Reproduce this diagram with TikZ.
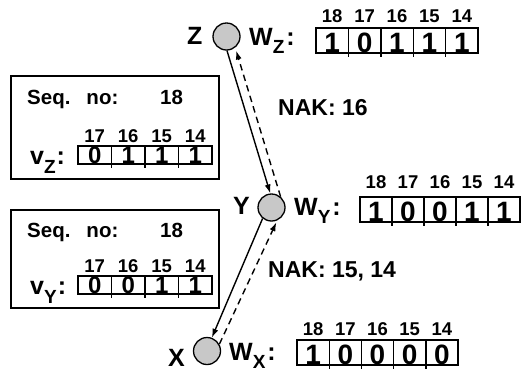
\documentclass[tikz,border=0pt]{standalone}
\usepackage{fontspec}
\setmainfont{Liberation Sans}
\usetikzlibrary{arrows.meta}
\definecolor{nodegray}{RGB}{200,200,200}
\newcommand{\subf}{\fontsize{19}{19}\selectfont}
\newcommand{\regbox}[9]{%
  \foreach \d [count=\i] in {#8} {
    \draw[cell] ({#2+(\i-1)*#4},#3) rectangle ({#2+\i*#4},{#3+#5});
    \node[#7] (#1d\i) at ({#2+(\i-0.5)*#4},{#3+#5}) {\d};
    \ifnum\i>1 \draw[cell] ({#2+(\i-1)*#4},{#3+#5}) -- ++(0,4);\fi
  }
  \foreach \l [count=\i] in {#9} {
    \node[collab] (#1l\i) at ({#2+(\i-0.5)*#4},#6) {\l};
  }
}
\begin{document}
\begin{tikzpicture}[x=1pt,y=-1pt,
  station/.style={circle, draw, fill=nodegray, minimum size=27pt, inner sep=0pt, line width=1.3pt},
  big/.style={font=\fontsize{25}{27}\selectfont\bfseries, inner sep=0pt},
  nak/.style={font=\fontsize{23}{25}\selectfont\bfseries, inner sep=0pt, anchor=base west},
  seq/.style={font=\fontsize{20.5}{22}\selectfont\bfseries, inner sep=0pt, anchor=base west},
  collab/.style={font=\fontsize{18.5}{20}\selectfont\bfseries, inner sep=0pt},
  digW/.style={font=\fontsize{28}{30}\selectfont\bfseries, inner sep=0pt, anchor=base, yshift=0.5pt},
  digV/.style={font=\fontsize{24}{26}\selectfont\bfseries, inner sep=0pt, anchor=base, yshift=0.5pt},
  cell/.style={line width=1.4pt},
  frame/.style={draw, line width=1.6pt},
  link/.style={line width=1.4pt, -{Latex[length=9pt,width=6pt]}},
  nakline/.style={link, dash pattern=on 6.5pt off 4.5pt},
]
\useasboundingbox (0,0) rectangle (521,373);

% stations
\node[station] (Z) at (226.5,36.5) {};
\node[station] (Y) at (271.5,207.5) {};
\node[station] (X) at (207,351) {};
\node[big, anchor=base west] (zlab) at (187,44) {Z};
\node[big, anchor=base west] (ylab) at (233,214) {Y};
\node[big, anchor=base west] (xlab) at (168,366) {X};

% window labels
\node[big, anchor=base west] (wz) at (249,45) {W\raisebox{-8pt}{\subf Z}\hspace{2pt}:};
\node[big, anchor=base west] (wy) at (294,215) {W\raisebox{-8pt}{\subf Y}\hspace{2pt}:};
\node[big, anchor=base west] (wx) at (229,360) {W\raisebox{-8pt}{\subf X}\hspace{2pt}:};

% window registers
\regbox{rz}{316}{28}{32.4}{25}{16}{digW}{1,0,1,1,1}{18,17,16,15,14}
\regbox{ry}{360}{197}{32}{25}{182}{digW}{1,0,0,1,1}{18,17,16,15,14}
\regbox{rx}{297}{340}{32.2}{25}{329}{digW}{1,0,0,0,0}{18,17,16,15,14}

% connectors
\draw[link] (Z.-88) -- (Y.95);
\draw[nakline, shorten >=3pt] (Y.50) -- (Z.-52);
\draw[link] (Y.-129) -- (X.70);
\draw[nakline, shorten >=2pt] (X.29) -- (Y.-66);
\node[nak] (nak1) at (278,115) {NAK: 16};
\node[nak] (nak2) at (268,277) {NAK: 15, 14};

% info boxes
\node[frame, minimum width=208pt, minimum height=103pt, anchor=north west, inner sep=0pt] (boxz) at (10,75) {};
\node[seq] (seqz) at (27,104) {Seq.\hspace{16pt}no:};
\node[seq] (seqnz) at (160,104) {18};
\node[big, anchor=base west] (vz) at (30,164) {v\raisebox{-9pt}{\subf Z}\hspace{1pt}:};
\regbox{vzr}{78}{146}{33.5}{18}{136}{digV}{0,1,1,1}{17,16,15,14}

\node[frame, minimum width=208pt, minimum height=98pt, anchor=north west, inner sep=0pt] (boxy) at (10,209) {};
\node[seq] (seqy) at (27,237) {Seq.\hspace{16pt}no:};
\node[seq] (seqny) at (160,237) {18};
\node[big, anchor=base west] (vy) at (30,294) {v\raisebox{-9pt}{\subf Y}\hspace{1pt}:};
\regbox{vyr}{78}{276}{33.5}{18}{266}{digV}{0,0,1,1}{17,16,15,14}
\end{tikzpicture}
\end{document}
